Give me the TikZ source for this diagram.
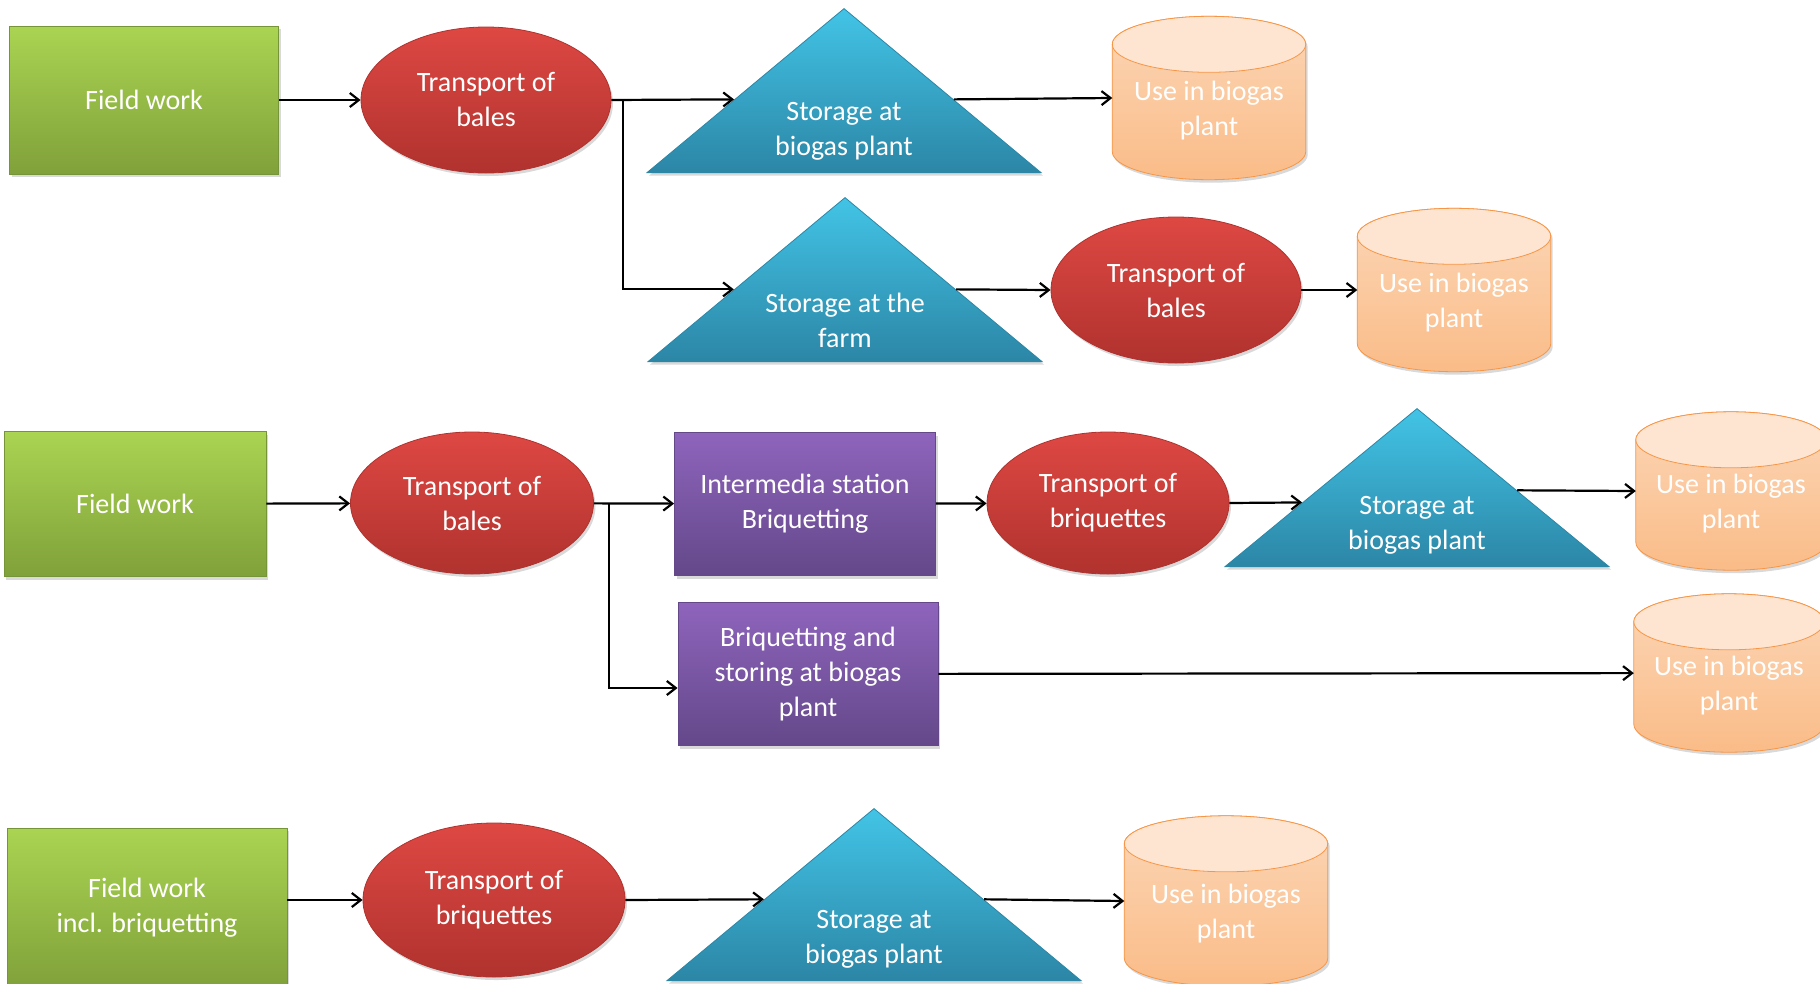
\documentclass[tikz,border=0pt]{standalone}
\usepackage{fontspec}
\setmainfont{Carlito}
\usetikzlibrary{shapes.geometric,arrows.meta,shadows,calc,backgrounds}

\definecolor{fieldtop}{RGB}{170,212,82}
\definecolor{fieldbot}{RGB}{128,161,58}
\definecolor{fieldline}{RGB}{118,148,56}
\definecolor{haultop}{RGB}{222,72,67}
\definecolor{haulbot}{RGB}{176,50,46}
\definecolor{piletop}{RGB}{66,196,230}
\definecolor{pilebot}{RGB}{44,134,166}
\definecolor{stattop}{RGB}{142,100,188}
\definecolor{statbot}{RGB}{100,72,138}
\definecolor{plantcap}{RGB}{253,229,210}
\definecolor{planttop}{RGB}{252,214,182}
\definecolor{plantbot}{RGB}{250,188,136}
\definecolor{plantline}{RGB}{247,150,70}

\tikzset{
  txt/.style={font=\fontsize{28}{35}\selectfont, text=white, align=center},
  shade/.style={drop shadow={opacity=0.3, shadow xshift=2pt, shadow yshift=-3pt}},
  box/.style={txt, shade, inner sep=0pt, line width=0.8pt},
  field/.style={box, rectangle, top color=fieldtop, bottom color=fieldbot, draw=fieldline,
    minimum width=269pt, minimum height=148pt},
  haul/.style={box, ellipse, top color=haultop, bottom color=haulbot, draw=haulbot,
    minimum width=250pt, minimum height=146pt},
  station/.style={box, rectangle, top color=stattop, bottom color=statbot, draw=statbot,
    minimum width=261pt, minimum height=143pt},
  pile/.style={box, isosceles triangle, isosceles triangle stretches, shape border rotate=90,
    top color=piletop, bottom color=pilebot, draw=pilebot, anchor=lower side,
    minimum width=394pt, minimum height=164pt,
    label={[txt, anchor=center, yshift=42pt]south:#1}},
  plant/.style={rectangle, inner sep=0pt, minimum width=193pt, minimum height=163pt,
    label={[txt, yshift=-13pt]center:#1}},
  plantbody/.style={shade, top color=planttop, bottom color=plantbot, draw=plantline, line width=0.8pt},
  plantlid/.style={fill=plantcap, draw=plantline, line width=0.8pt},
  flow/.style={line width=2.2pt, -{Straight Barb[length=9pt,width=14pt]}}
}

\begin{document}
\begin{tikzpicture}[x=1pt, y=-1pt]
  \useasboundingbox (0,0) rectangle (1820,983);

  % bales, stored at the plant or at the farm
  \node[field] (fw1) at (144,100) {Field work};
  \node[haul] (tb1) at (486,100) {Transport of\\bales};
  \node[pile={Storage at\\biogas plant}] (st1) at (844,173) {};
  \node[plant={Use in biogas\\plant}] (ub1) at (1209,98) {};
  \node[pile={Storage at the\\farm}] (st2) at (845,362) {};
  \node[haul] (tb2) at (1176,290) {Transport of\\bales};
  \node[plant={Use in biogas\\plant}] (ub2) at (1454,290) {};

  % briquetting at an intermedia station or at the plant
  \node[field, minimum width=262pt, minimum height=145pt] (fw2) at (135,504) {Field work};
  \node[haul, minimum width=243pt, minimum height=142pt] (tb3) at (472,503) {Transport of\\bales};
  \node[station] (ib) at (805,504) {Intermedia station\\Briquetting};
  \node[station, minimum width=260pt] (bs) at (808,674) {Briquetting and\\storing at biogas\\plant};
  \node[haul, minimum width=242pt, minimum height=142pt] (tq1) at (1108,503) {Transport of\\briquettes};
  \node[pile={Storage at\\biogas plant}, minimum width=384pt, minimum height=158pt] (st3) at (1417,567) {};
  \node[plant={Use in biogas\\plant}, minimum width=190pt, minimum height=158pt] (ub3) at (1731,491) {};
  \node[plant={Use in biogas\\plant}, minimum width=190pt, minimum height=158pt] (ub4) at (1729,673) {};

  % briquetting in the field
  \node[field, minimum width=280pt, minimum height=160pt] (fw3) at (147,908) {Field work\\incl. briquetting};
  \node[haul, minimum width=262pt, minimum height=154pt] (tq2) at (494,900) {Transport of\\briquettes};
  \node[pile={Storage at\\biogas plant}, minimum width=414pt, minimum height=172pt] (st4) at (874,981) {};
  \node[plant={Use in biogas\\plant}, minimum width=203pt, minimum height=170pt] (ub5) at (1226,901) {};

  % cylinders behind the plant nodes
  \begin{scope}[on background layer]
    \foreach \c in {ub1,ub2,ub3,ub4,ub5}{
      \path[plantbody] let \p1=(\c.north west), \p2=(\c.south east), \n1={(\x2-\x1)/2} in
        (\x1,\y1-28pt) -- (\x1,\y2+28pt)
        arc[start angle=180, end angle=360, x radius={\n1*1pt}, y radius=28pt]
        -- (\x2,\y1-28pt)
        arc[start angle=0, end angle=180, x radius={\n1*1pt}, y radius=28pt] -- cycle;
      \path[plantlid] let \p1=(\c.north west), \p2=(\c.north east), \n1={(\x2-\x1)/2} in
        (\x1,\y1-28pt) arc[start angle=180, end angle=540, x radius={\n1*1pt}, y radius=28pt];
    }
  \end{scope}

  \coordinate (br1) at (623,100);
  \coordinate (br2) at (609,503);

  \draw[flow] (fw1) -- (tb1);
  \draw[flow] (tb1.east) -- ($(st1.left corner)!0.445!(st1.apex)$);
  \draw[flow] (br1) |- ($(st2.left corner)!0.439!(st2.apex)$);
  \draw[flow] ($(st1.right corner)!0.445!(st1.apex)$) -- (ub1.west);
  \draw[flow] ($(st2.right corner)!0.439!(st2.apex)$) -- (tb2.west);
  \draw[flow] (tb2) -- (ub2);

  \draw[flow] (fw2) -- (tb3);
  \draw[flow] (tb3) -- (ib);
  \draw[flow] (br2) |- ($(bs.west)+(0,14)$);
  \draw[flow] (ib) -- (tq1);
  \draw[flow] (tq1.east) -- ($(st3.left corner)!0.405!(st3.apex)$);
  \draw[flow] ($(st3.right corner)!0.481!(st3.apex)$) -- (ub3.west);
  \draw[flow] (bs) -- (ub4);

  \draw[flow] (fw3.east |- tq2.west) -- (tq2.west);
  \draw[flow] (tq2.east) -- ($(st4.left corner)!0.471!(st4.apex)$);
  \draw[flow] ($(st4.right corner)!0.471!(st4.apex)$) -- (ub5.west);
\end{tikzpicture}
\end{document}
